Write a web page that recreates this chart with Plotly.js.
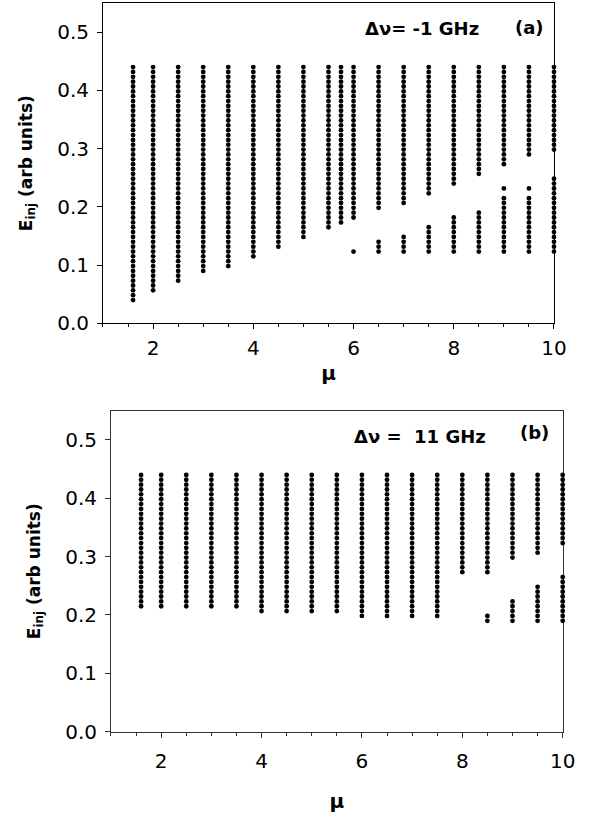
<!DOCTYPE html>
<html>
<head>
<meta charset="utf-8">
<script src="https://cdn.plot.ly/plotly-3.0.1.min.js"></script>
<style>html,body{margin:0;padding:0;background:#fff;}#chart{width:596px;height:819px;}</style>
</head>
<body>
<div id="chart"></div>
<script>
// Scan grid of injection field values (E_inj) used in the parameter sweep
const Egrid = [0.0400, 0.0483, 0.0567, 0.0650, 0.0733, 0.0817, 0.0900, 0.0983, 0.1067, 0.1150,
  0.1233, 0.1317, 0.1400, 0.1483, 0.1567, 0.1650, 0.1733, 0.1817, 0.1900, 0.1983,
  0.2067, 0.2150, 0.2233, 0.2317, 0.2400, 0.2483, 0.2567, 0.2650, 0.2733, 0.2817,
  0.2900, 0.2983, 0.3067, 0.3150, 0.3233, 0.3317, 0.3400, 0.3483, 0.3567, 0.3650,
  0.3733, 0.3817, 0.3900, 0.3983, 0.4067, 0.4150, 0.4233, 0.4317, 0.4400];

// Panel (a): Δν = -1 GHz
const muA = [1.6, 2, 2.5, 3, 3.5, 4, 4.5, 5, 5.5, 5.75, 6, 6.5, 7, 7.5, 8, 8.5, 9, 9.5, 10];
const segA = [
  [[0.0400, 0.44]],
  [[0.0567, 0.44]],
  [[0.0733, 0.44]],
  [[0.0900, 0.44]],
  [[0.0983, 0.44]],
  [[0.1150, 0.44]],
  [[0.1317, 0.44]],
  [[0.1483, 0.44]],
  [[0.1650, 0.44]],
  [[0.1733, 0.44]],
  [[0.1233, 0.1233], [0.1817, 0.44]],
  [[0.1233, 0.1400], [0.1983, 0.44]],
  [[0.1233, 0.1483], [0.2067, 0.44]],
  [[0.1233, 0.1650], [0.2233, 0.44]],
  [[0.1233, 0.1817], [0.2400, 0.44]],
  [[0.1233, 0.1900], [0.2567, 0.44]],
  [[0.1233, 0.2150], [0.2317, 0.2317], [0.2733, 0.44]],
  [[0.1233, 0.2150], [0.2317, 0.2317], [0.2900, 0.44]],
  [[0.1233, 0.2483], [0.2983, 0.44]]
];

// Panel (b): Δν = 11 GHz
const muB = [1.6, 2, 2.5, 3, 3.5, 4, 4.5, 5, 5.5, 6, 6.5, 7, 7.5, 8, 8.5, 9, 9.5, 10];
const segB = [
  [[0.2150, 0.44]],
  [[0.2150, 0.44]],
  [[0.2150, 0.44]],
  [[0.2150, 0.44]],
  [[0.2150, 0.44]],
  [[0.2067, 0.44]],
  [[0.2067, 0.44]],
  [[0.2067, 0.44]],
  [[0.2067, 0.44]],
  [[0.1983, 0.44]],
  [[0.1983, 0.44]],
  [[0.1983, 0.44]],
  [[0.1983, 0.44]],
  [[0.2733, 0.44]],
  [[0.1900, 0.1983], [0.2733, 0.44]],
  [[0.1900, 0.2233], [0.2983, 0.44]],
  [[0.1900, 0.2483], [0.3067, 0.44]],
  [[0.1900, 0.2650], [0.3233, 0.44]]
];

const labelA = 'Δν= -1 GHz';
const labelB = 'Δν =\u00a0 11 GHz';

function expand(mus, segs) {
  const xs = [], ys = [];
  mus.forEach((m, i) => {
    segs[i].forEach(([lo, hi]) => {
      Egrid.forEach(e => {
        if (e >= lo - 1e-4 && e <= hi + 1e-4) { xs.push(m); ys.push(e); }
      });
    });
  });
  return {xs, ys};
}

const A = expand(muA, segA);
const B = expand(muB, segB);

const marker = {color: '#000', size: 4.8, line: {width: 0}};
const traces = [
  {type: 'scatter', mode: 'markers', x: A.xs, y: A.ys, xaxis: 'x', yaxis: 'y', marker: marker, cliponaxis: false, hoverinfo: 'skip'},
  {type: 'scatter', mode: 'markers', x: B.xs, y: B.ys, xaxis: 'x2', yaxis: 'y2', marker: marker, cliponaxis: false, hoverinfo: 'skip'}
];

const tickFont = {family: 'DejaVu Sans, Arial, sans-serif', size: 20, color: '#000'};
const boldFont = (s) => ({family: 'DejaVu Sans, Arial, sans-serif', size: s, color: '#000', weight: 'bold'});

function xax(domain, anchor, lc, standoff, labelOff) {
  return {
    domain: domain, anchor: anchor, range: [1, 10],
    showline: true, mirror: true, linecolor: lc, linewidth: 1,
    ticks: 'outside', ticklen: 5, tickcolor: lc, tickwidth: 1,
    tick0: 0, dtick: 2, showgrid: false, zeroline: false,
    minor: {ticks: 'outside', ticklen: 3, tick0: 0, dtick: 0.5, tickcolor: lc, showgrid: false},
    tickfont: tickFont, ticklabelstandoff: labelOff, layer: 'below traces', automargin: false,
    title: {text: '<b>μ</b>', font: boldFont(20), standoff: standoff}
  };
}
function yax(domain, anchor, lc) {
  return {
    domain: domain, anchor: anchor, range: [0, 0.55],
    showline: true, mirror: true, linecolor: lc, linewidth: 1,
    ticks: 'outside', ticklen: 5, tickcolor: lc, tickwidth: 1,
    tick0: 0, dtick: 0.1, tickformat: '.1f', showgrid: false, zeroline: false,
    tickfont: tickFont, ticklabelstandoff: 4, layer: 'below traces', automargin: false,
    title: {text: '<b>E<sub>inj</sub> (arb units)</b>', font: boldFont(17), standoff: 20}
  };
}

const layout = {
  width: 596, height: 819,
  margin: {l: 0, r: 0, t: 0, b: 0},
  paper_bgcolor: '#fff', plot_bgcolor: '#fff',
  showlegend: false,
  xaxis: xax([0.1728, 0.9295], 'y', '#000', 6, 2),
  yaxis: yax([0.6052, 0.9963], 'x', '#000'),
  xaxis2: xax([0.1862, 0.9441], 'y2', '#333', 22, 6),
  yaxis2: yax([0.1066, 0.4985], 'x2', '#333'),
  annotations: [
    {xref: 'x', yref: 'y', x: 7.37, y: 0.5065, text: '<b>' + labelA + '</b>', showarrow: false, font: boldFont(18)},
    {xref: 'x', yref: 'y', x: 9.52, y: 0.508, text: '<b>(a)</b>', showarrow: false, font: boldFont(18)},
    {xref: 'x2', yref: 'y2', x: 7.15, y: 0.5056, text: '<b>' + labelB + '</b>', showarrow: false, font: boldFont(18)},
    {xref: 'x2', yref: 'y2', x: 9.43, y: 0.512, text: '<b>(b)</b>', showarrow: false, font: boldFont(18)}
  ]
};

Plotly.newPlot('chart', traces, layout, {staticPlot: true, displayModeBar: false});
</script>
</body>
</html>
